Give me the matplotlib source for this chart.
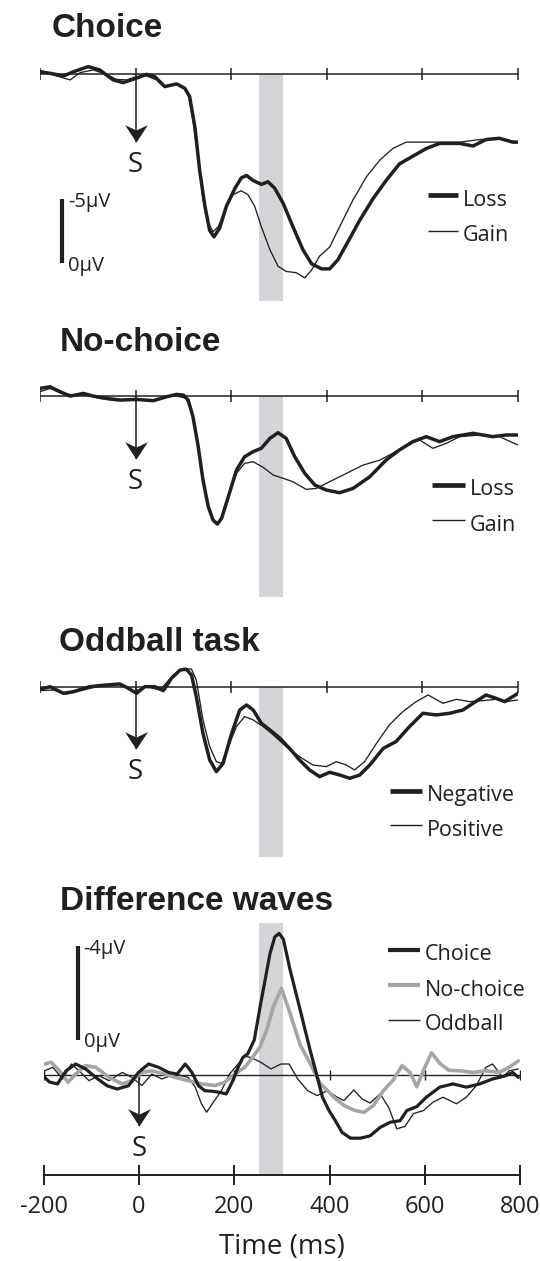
import matplotlib
matplotlib.use("Agg")
import matplotlib.pyplot as plt
from matplotlib.lines import Line2D
from matplotlib.path import Path

# ---------------- data (µV, negative plotted upward) ----------------
# Panel 1: Choice
choice_loss_t = [-200, -179, -151, -130, -99, -75, -47, -26, 2, 23, 40, 61, 86, 103, 113, 124, 134, 145, 155, 164,
                 176, 190, 208, 221, 232, 246, 263, 277, 291, 309, 329, 350, 368, 389, 406, 423, 444, 469, 497, 524,
                 552, 580, 608, 636, 678, 706, 733, 761, 789, 800]
choice_loss_v = [-0.2, -0.08, 0.13, -0.2, -0.6, -0.34, 0.44, 0.65, 0.3, 0.0, 0.18, 0.96, 0.75, 1.1, 1.74, 4.1, 7.5, 10.3, 12.2, 12.7,
                 12.0, 10.3, 8.9, 8.1, 7.9, 8.3, 8.6, 8.4, 8.9, 10.1, 11.9, 13.7, 14.8, 15.2, 15.2, 14.5, 13.1, 11.4, 9.7, 8.3,
                 7.0, 6.4, 5.8, 5.4, 5.4, 5.6, 5.1, 5.0, 5.3, 5.3]
choice_gain_t = [-200, -172, -137, -116, -89, -61, -40, -19, 2, 23, 44, 61, 82, 100, 110, 120, 131, 141, 152, 162,
                 173, 187, 204, 221, 235, 249, 263, 281, 298, 315, 336, 354, 368, 385, 406, 427, 455, 483, 511, 538,
                 566, 594, 636, 678, 720, 761, 800]
choice_gain_v = [-0.29, 0.05, 0.44, -0.13, -0.34, 0.0, 0.4, 0.44, 0.18, 0.13, 0.44, 1.0, 0.75, 0.96, 1.5, 3.6, 6.7, 9.8, 11.6, 12.3,
                 11.9, 10.6, 9.4, 9.1, 9.4, 10.3, 11.9, 13.7, 15.0, 15.4, 15.5, 15.9, 15.3, 14.2, 13.5, 11.9, 9.8, 8.0, 6.7, 5.8,
                 5.3, 5.3, 5.3, 5.3, 5.1, 5.0, 5.3]

# Panel 2: No-choice
nochoice_loss_t = [-200, -179, -158, -137, -109, -89, -61, -33, 2, 37, 65, 86, 100, 110, 120, 131, 141, 152, 162, 171,
                   180, 194, 211, 228, 246, 263, 281, 298, 315, 333, 354, 375, 399, 427, 455, 490, 524, 552, 580, 608,
                   636, 664, 706, 747, 775, 800]
nochoice_loss_v = [-0.57, -0.7, -0.31, 0.03, -0.18, 0.03, 0.21, 0.34, 0.29, 0.39, 0.08, -0.1, -0.05, 0.34, 1.64, 3.98, 6.59, 8.67, 9.71, 10.03,
                   9.58, 7.89, 5.81, 4.77, 4.37, 4.11, 3.33, 2.89, 3.33, 4.77, 6.07, 6.98, 7.37, 7.58, 7.24, 6.33, 5.03, 4.24, 3.59, 3.2,
                   3.59, 3.2, 2.94, 3.2, 3.07, 3.07]
nochoice_gain_t = [-200, -179, -158, -130, -102, -75, -40, 2, 44, 79, 106, 120, 131, 141, 152, 162, 171, 180, 194, 211,
                   228, 246, 267, 288, 309, 329, 357, 378, 406, 441, 476, 511, 538, 566, 594, 622, 650, 678, 720, 761, 800]
nochoice_gain_v = [-0.31, -0.57, -0.23, -0.05, -0.05, 0.21, 0.39, 0.29, 0.34, -0.05, 0.21, 1.64, 3.98, 6.59, 8.67, 9.71, 9.97, 9.5, 7.89, 6.07,
                   5.29, 5.16, 5.6, 6.2, 6.46, 6.72, 7.32, 7.24, 6.72, 6.07, 5.42, 5.03, 4.5, 3.85, 3.46, 4.11, 3.72, 3.2, 3.07, 3.2, 3.85]

# Panel 3: Oddball task
odd_neg_t = [-200, -179, -151, -130, -96, -61, -33, -15, 2, 19, 40, 58, 75, 93, 106, 117, 127, 141, 155, 169,
             183, 201, 218, 232, 246, 263, 281, 302, 322, 343, 364, 385, 406, 427, 448, 469, 490, 518, 545, 573,
             601, 629, 657, 685, 706, 733, 754, 772, 789, 800]
odd_neg_v = [0.16, -0.05, 0.47, 0.34, -0.05, -0.18, -0.26, 0.08, 0.47, -0.05, -0.05, 0.26, -0.7, -1.35, -1.41, -0.96, 0.73, 3.6, 5.68, 6.59,
             5.94, 3.59, 1.77, 1.38, 1.77, 2.81, 3.33, 3.98, 4.77, 5.68, 6.46, 6.98, 6.64, 6.85, 7.11, 6.85, 6.07, 4.77, 4.24, 3.07,
             2.03, 2.16, 2.03, 1.77, 1.25, 0.6, 0.86, 1.12, 0.73, 0.47]
odd_pos_t = [-200, -172, -144, -109, -75, -33, -5, 23, 51, 79, 100, 117, 127, 141, 155, 169, 180, 194, 211, 228,
             246, 267, 288, 315, 343, 371, 399, 420, 441, 458, 479, 504, 531, 559, 587, 612, 643, 671, 699, 727,
             754, 775, 800]
odd_pos_v = [0.26, 0.21, 0.52, 0.21, -0.1, -0.26, 0.34, -0.05, 0.21, -0.96, -1.48, -1.41, -0.57, 2.55, 4.64, 5.81, 5.94, 4.64, 3.07, 2.29,
             2.55, 3.07, 3.72, 4.64, 5.42, 6.07, 6.2, 5.81, 6.07, 6.46, 5.81, 4.38, 2.94, 1.9, 1.12, 0.6, 1.25, 0.94, 1.12, 1.04,
             0.94, 1.12, 0.99]

# Panel 4: Difference waves
diff_choice_t = [-198, -188, -171, -153, -133, -112, -91, -67, -46, -22, -1, 20, 41, 62, 80, 97, 111, 125, 138, 156,
                 169, 183, 197, 208, 218, 228, 242, 254, 265, 275, 285, 294, 303, 317, 338, 359, 373, 385, 399, 412,
                 426, 444, 465, 485, 506, 527, 548, 562, 583, 603, 631, 659, 687, 715, 742, 770, 784, 796]
diff_choice_v = [0.1, 0.3, 0.38, -0.18, -0.47, -0.26, 0.1, 0.46, 0.6, 0.46, -0.11, -0.47, -0.33, -0.11, -0.04, -0.47, -0.11, 0.46, 0.67, 0.7,
                 0.74, 0.81, 0.24, -0.33, -0.75, -0.9, -1.5, -2.9, -4.1, -5.2, -5.9, -6.05, -5.8, -4.5, -2.8, -1.07, 0.0, 0.95, 1.53, 1.95,
                 2.45, 2.7, 2.7, 2.6, 2.24, 2.02, 1.95, 1.52, 1.35, 0.95, 0.52, 0.38, 0.52, 0.38, 0.17, 0.03, -0.11, 0.1]
diff_nochoice_t = [-198, -184, -167, -149, -133, -112, -91, -63, -35, -15, 6, 27, 55, 76, 103, 131, 159, 180, 201, 222,
                   240, 254, 268, 282, 299, 317, 338, 359, 380, 409, 430, 451, 472, 492, 513, 534, 552, 569, 583, 597,
                   614, 631, 650, 673, 701, 728, 756, 777, 796]
diff_nochoice_v = [-0.47, -0.54, -0.18, 0.31, -0.04, -0.4, -0.33, 0.1, 0.38, 0.24, -0.11, -0.18, -0.04, 0.1, 0.24, 0.38, 0.45, 0.31, -0.04, -0.33,
                   -0.8, -1.2, -1.92, -2.92, -3.7, -2.64, -1.3, -0.5, 0.35, 0.95, 1.3, 1.5, 1.6, 1.3, 0.67, 0.2, -0.4, -0.1, 0.5, -0.2,
                   -0.95, -0.5, -0.2, -0.18, -0.11, -0.18, -0.11, -0.33, -0.6]
diff_odd_t = [-198, -181, -160, -142, -126, -105, -84, -63, -35, -15, 6, 27, 48, 76, 103, 118, 131, 142, 156, 173,
              190, 208, 222, 235, 256, 277, 298, 315, 333, 354, 374, 395, 416, 430, 451, 468, 485, 506, 524, 541,
              558, 576, 597, 617, 638, 666, 687, 708, 728, 742, 763, 777, 796]
diff_odd_v = [-0.18, -0.33, 0.17, -0.47, -0.18, 0.24, 0.03, 0.24, -0.11, 0.1, 0.45, -0.04, 0.17, -0.04, 0.1, 0.52, 1.23, 1.59, 1.16, 0.67,
              -0.04, -0.47, -0.8, -0.75, -0.54, -0.26, -0.47, -0.47, 0.17, 0.67, 0.88, 0.67, 0.95, 1.09, 0.64, 1.02, 1.2, 0.81, 1.38, 2.3,
              2.2, 1.65, 1.52, 1.16, 0.95, 1.23, 0.95, 0.45, -0.33, -0.47, 0.1, -0.18, -0.26]

time_ticks = [-200, 0, 200, 400, 600, 800]
tick_labels = ["-200", "0", "200", "400", "600", "800"]
panel_titles = ["Choice", "No-choice", "Oddball task", "Difference waves"]

# ---------------- styling / layout ----------------
W, H = 540, 1261
INK = "#231f20"
GREY_LINE = "#a5a5a5"
BAND = "#d4d5d8"
SANS = "Open Sans"
BOLD = "Liberation Sans"

fig = plt.figure(figsize=(W / 100, H / 100), dpi=100)
fig.patch.set_facecolor("white")


def fx(x):
    return x / W


def fy(y):
    return 1 - y / H


def make_axes(x0, x1, base, scale, ytop, ybot):
    ax = fig.add_axes([fx(x0), fy(ybot), (x1 - x0) / W, (ybot - ytop) / H])
    ax.set_xlim(-200, 800)
    ax.set_ylim((ybot - base) / scale, (ytop - base) / scale)
    for s in ax.spines.values():
        s.set_visible(False)
    ax.set_xticks([])
    ax.set_yticks([])
    ax.patch.set_alpha(0)
    return ax


# arrow head marker (stealth shape, tip at origin, pointing down)
head = Path([(0, 0), (-10.5, 16), (0, 11), (10.5, 16), (0, 0)],
            [Path.MOVETO, Path.LINETO, Path.LINETO, Path.LINETO, Path.CLOSEPOLY])


def stim_arrow(ax, tip_v):
    ax.plot([0, 0], [0, tip_v], color=INK, lw=1.1, solid_capstyle="butt", zorder=4)
    ax.plot([0], [tip_v], ls="none", marker=head, ms=25, mfc=INK, mew=0, zorder=5, clip_on=False)
    ax.annotate("S", (0, tip_v), xytext=(0, -21.5), textcoords="offset points",
                ha="center", va="baseline", fontsize=20, family=SANS, color=INK)


def baseline(ax, tick_ms=8.6, lw=1.1):
    ax.axhline(0, color=INK, lw=lw, zorder=3)
    ax.plot(time_ticks, [0] * len(time_ticks), ls="none", marker="|", ms=tick_ms, mew=lw,
            color=INK, zorder=3)


def scale_bar(ax, x_ms, v_bottom, length, top_label, bottom_label):
    ax.plot([x_ms, x_ms], [v_bottom, v_bottom - length], color=INK, lw=3.0, solid_capstyle="butt")
    ax.annotate(top_label, (x_ms, v_bottom - length), xytext=(4.4, -5.4), textcoords="offset points",
                ha="left", va="baseline", fontsize=14.5, family=SANS, color=INK)
    ax.annotate(bottom_label, (x_ms, v_bottom), xytext=(4.4, -5.4), textcoords="offset points",
                ha="left", va="baseline", fontsize=14.5, family=SANS, color=INK)


def legend(x0, x1, y_first, pitch, entries):
    for i, (label, color, lw) in enumerate(entries):
        y = y_first + i * pitch
        fig.add_artist(Line2D([fx(x0), fx(x1)], [fy(y), fy(y)], transform=fig.transFigure,
                              color=color, lw=lw, solid_capstyle="butt"))
        fig.text(fx(x1 + 5), fy(y + 10.5), label, ha="left", va="baseline",
                 fontsize=15.5, family=SANS, color=INK)


def title(x, y, text):
    fig.text(fx(x), fy(y), text, ha="left", va="baseline", fontsize=24,
             family=BOLD, weight="bold", color=INK)


THICK, THIN = 2.5, 0.95
JOIN = dict(solid_joinstyle="round", solid_capstyle="round")

# ---- Panel 1 ----
ax1 = make_axes(40, 518, 74.3, 12.8, 40, 301)
ax1.fill_between([258, 308], 0, ax1.get_ylim()[0], color=BAND, lw=0, zorder=0)
baseline(ax1)
ax1.plot(choice_gain_t, choice_gain_v, color=INK, lw=THIN, zorder=6, **JOIN)
ax1.plot(choice_loss_t, choice_loss_v, color=INK, lw=THICK, zorder=7, **JOIN)
stim_arrow(ax1, 5.27)
scale_bar(ax1, -153.4, 14.77, 5, "-5µV", "0µV")
title(52, 37, panel_titles[0])
legend(428, 458, 195, 35.7, [("Loss", INK, 3.4), ("Gain", INK, 1.0)])

# ---- Panel 2 ----
ax2 = make_axes(40, 518, 395.7, 12.8, 360, 597)
ax2.fill_between([258, 308], 0, ax2.get_ylim()[0], color=BAND, lw=0, zorder=0)
baseline(ax2)
ax2.plot(nochoice_gain_t, nochoice_gain_v, color=INK, lw=THIN, zorder=6, **JOIN)
ax2.plot(nochoice_loss_t, nochoice_loss_v, color=INK, lw=THICK, zorder=7, **JOIN)
stim_arrow(ax2, 4.95)
title(60, 351, panel_titles[1])
legend(432, 465, 485, 35, [("Loss", INK, 3.4), ("Gain", INK, 1.0)])

# ---- Panel 3 ----
ax3 = make_axes(40, 518, 687.3, 12.8, 655, 856.7)
ax3.fill_between([258, 308], 0, ax3.get_ylim()[0], color=BAND, lw=0, zorder=0)
baseline(ax3)
ax3.plot(odd_pos_t, odd_pos_v, color=INK, lw=THIN, zorder=6, **JOIN)
ax3.plot(odd_neg_t, odd_neg_v, color=INK, lw=THICK, zorder=7, **JOIN)
stim_arrow(ax3, 4.84)
title(59, 651, panel_titles[2])
legend(390, 421.7, 790.7, 34.3, [("Negative", INK, 3.4), ("Positive", INK, 1.0)])

# ---- Panel 4 ----
ax4 = make_axes(43.7, 520.2, 1075, 23.4, 900, 1175)
ax4.fill_between([252, 302], -6.51, ax4.get_ylim()[0], color=BAND, lw=0, zorder=0)
baseline(ax4, tick_ms=7.2, lw=1.0)
ax4.plot(diff_odd_t, diff_odd_v, color=INK, lw=THIN, zorder=6, **JOIN)
ax4.plot(diff_nochoice_t, diff_nochoice_v, color=GREY_LINE, lw=2.6, zorder=7, **JOIN)
ax4.plot(diff_choice_t, diff_choice_v, color=INK, lw=2.3, zorder=8, **JOIN)
stim_arrow(ax4, 2.18)
scale_bar(ax4, -129, -1.5, 4, "-4µV", "0µV")
title(60, 910, panel_titles[3])
legend(388, 420, 950, 35, [("Choice", INK, 3.0), ("No-choice", GREY_LINE, 3.0), ("Oddball", INK, 1.0)])

# bottom time axis
ax4.spines["bottom"].set_visible(True)
ax4.spines["bottom"].set_linewidth(1.4)
ax4.spines["bottom"].set_color(INK)
ax4.set_xticks(time_ticks)
ax4.set_xticklabels(tick_labels, fontsize=17, family=SANS, color=INK)
ax4.tick_params(axis="x", direction="inout", length=14.4, width=1.4, color=INK, pad=7)
ax4.set_xlabel("Time (ms)", fontsize=20, family=SANS, color=INK, labelpad=10)

fig.savefig("out.png", dpi=100)
